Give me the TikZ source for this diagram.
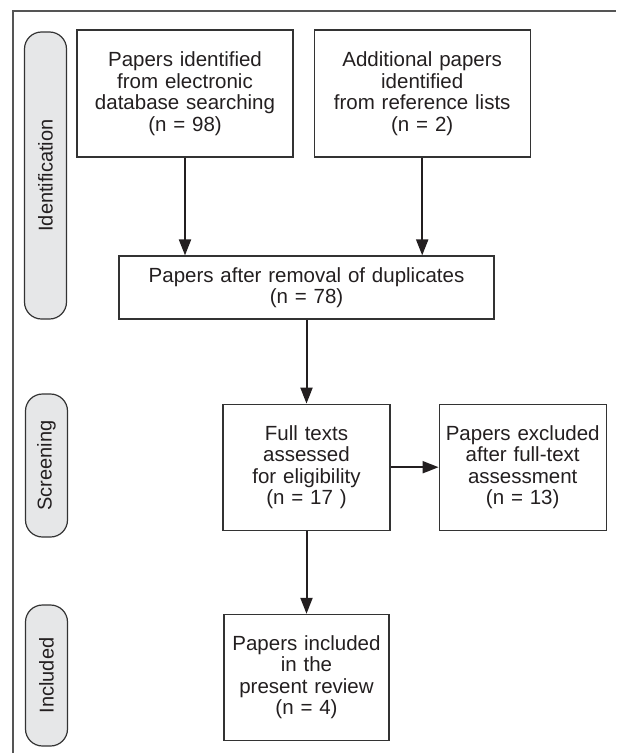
\documentclass[tikz,border=0pt]{standalone}
\usepackage{fontspec}
\setmainfont{Liberation Sans}
\definecolor{framegray}{HTML}{555555}
\definecolor{boxline}{HTML}{333333}
\definecolor{stagefill}{HTML}{E6E7E8}
\definecolor{inktext}{HTML}{231F20}
\usetikzlibrary{
  positioning,
  arrows.meta
}

\begin{document}
\begin{tikzpicture}[
  x=1pt, y=1pt,
  >={Triangle[length=16pt,width=12pt]},
  pbox/.style={
    rectangle, draw=boxline, line width=1.2pt, inner sep=0pt,
    align=center, text=inktext, font=\fontsize{20.5}{21.5}\selectfont
  },
  stagelbl/.style={
    rectangle, rounded corners=17pt, draw=boxline, fill=stagefill,
    line width=1.2pt, rotate=90, minimum height=42pt, inner sep=0pt,
    text=inktext, font=\fontsize{20}{22}\selectfont
  },
  flow/.style={->, line width=2pt, draw=inktext}
]

\useasboundingbox (0,0) rectangle (616,-755);
\draw[framegray, line width=1.2pt] (13,-753) -- (13,-11) -- (616,-11);

% stage labels
\node[stagelbl, minimum width=287pt] (stIdent) at (45.5,-175.5) {Identification};
\node[stagelbl, minimum width=143pt] (stScreen) at (46.5,-465.5) {Screening};
\node[stagelbl, minimum width=141pt] (stIncl) at (46.5,-675.5) {Included};

% flow boxes
\node[pbox, minimum width=216pt, minimum height=127pt, text width=206pt] (ident) at (185,-93.5) {
  Papers identified\\
  from electronic\\
  database searching\\
  (n = 98)
};
\node[pbox, minimum width=216pt, minimum height=127pt, text width=206pt, right=20pt of ident] (refs) {
  Additional papers\\
  identified\\
  from reference lists\\
  (n = 2)
};
\node[pbox, minimum width=375pt, minimum height=63pt, text width=360pt] (dedup) at (306.5,-287.5) {
  Papers after removal of duplicates\\
  (n = 78)
};
\node[pbox, minimum width=167pt, minimum height=126pt, text width=160pt, below=84pt of dedup] (fulltext) {
  Full texts\\
  assessed\\
  for eligibility\\
  (n = 17 )
};
\node[pbox, minimum width=167pt, minimum height=126pt, text width=160pt, right=48pt of fulltext] (excluded) {
  Papers excluded\\
  after full-text\\
  assessment\\
  (n = 13)
};
\node[pbox, minimum width=165pt, minimum height=126pt, text width=158pt, below=83pt of fulltext] (included) {
  Papers included\\
  in the\\
  present review\\
  (n = 4)
};

\draw[flow] (ident.south) -- (ident.south |- dedup.north);
\draw[flow] (refs.south) -- (refs.south |- dedup.north);
\draw[flow] (dedup.south) -- (fulltext.north);
\draw[flow] (fulltext.east) -- (excluded.west);
\draw[flow] (fulltext.south) -- (included.north);

\end{tikzpicture}
\end{document}
